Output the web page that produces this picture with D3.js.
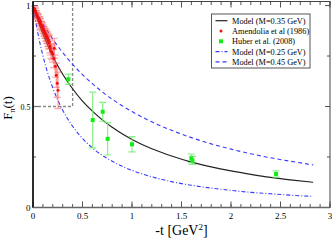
<!DOCTYPE html>
<html>
<head>
<meta charset="utf-8">
<script src="https://cdn.jsdelivr.net/npm/d3@7"></script>
<style>
  body { margin: 0; background: #fff; }
  svg { display: block; }
  text { font-family: "Liberation Serif", "DejaVu Serif", serif; }
</style>
</head>
<body>
<div id="chart"></div>
<script>
// model curves
const modelT    = [0, 0.02, 0.05, 0.1, 0.15, 0.2, 0.25, 0.3, 0.4, 0.5, 0.6, 0.7, 0.8, 0.9, 1.0, 1.2, 1.4, 1.6, 1.8, 2.0, 2.2, 2.4, 2.6, 2.83];
const modelM035 = [1, 0.969, 0.925, 0.859, 0.801, 0.749, 0.702, 0.660, 0.588, 0.527, 0.477, 0.434, 0.397, 0.365, 0.337, 0.291, 0.255, 0.225, 0.201, 0.181, 0.164, 0.149, 0.137, 0.125];
const modelM025 = [1, 0.940, 0.861, 0.752, 0.664, 0.592, 0.532, 0.482, 0.402, 0.342, 0.295, 0.258, 0.229, 0.204, 0.184, 0.152, 0.128, 0.110, 0.096, 0.085, 0.075, 0.068, 0.061, 0.055];
const modelM045 = [1, 0.981, 0.954, 0.911, 0.871, 0.834, 0.799, 0.767, 0.709, 0.658, 0.613, 0.572, 0.536, 0.504, 0.475, 0.424, 0.382, 0.346, 0.315, 0.289, 0.266, 0.246, 0.229, 0.211];

// Amendolia et al (1986)
const amendT   = [0.015, 0.020, 0.025, 0.030, 0.035, 0.040, 0.045, 0.050, 0.055, 0.060, 0.065, 0.070, 0.075, 0.080, 0.085, 0.090, 0.095, 0.100, 0.105, 0.110, 0.115, 0.120, 0.125, 0.130, 0.135, 0.140, 0.145, 0.150, 0.155, 0.160, 0.165, 0.170, 0.175, 0.180, 0.190, 0.200, 0.210, 0.215, 0.225, 0.235, 0.245, 0.253];
const amendF   = [0.985, 0.972, 0.975, 0.962, 0.958, 0.951, 0.946, 0.938, 0.940, 0.925, 0.928, 0.915, 0.918, 0.905, 0.902, 0.893, 0.896, 0.880, 0.884, 0.870, 0.873, 0.860, 0.862, 0.848, 0.853, 0.838, 0.842, 0.826, 0.830, 0.815, 0.820, 0.800, 0.790, 0.775, 0.770, 0.760, 0.738, 0.788, 0.700, 0.655, 0.615, 0.580];
const amendErr = [0.012, 0.012, 0.013, 0.013, 0.014, 0.014, 0.015, 0.015, 0.016, 0.016, 0.017, 0.017, 0.018, 0.018, 0.019, 0.019, 0.020, 0.020, 0.021, 0.022, 0.022, 0.023, 0.024, 0.025, 0.026, 0.027, 0.028, 0.029, 0.030, 0.031, 0.032, 0.034, 0.035, 0.036, 0.038, 0.040, 0.045, 0.050, 0.055, 0.060, 0.070, 0.090];

// Huber et al. (2008)
const huberT   = [0.357, 0.603, 0.704, 0.754, 1.0, 1.60, 1.61, 2.455];
const huberF   = [0.635, 0.433, 0.474, 0.340, 0.313, 0.243, 0.233, 0.166];
const huberErr = [0.025, 0.138, 0.047, 0.080, 0.038, 0.022, 0.020, 0.016];

// axes
const xMajor = [0, 0.5, 1, 1.5, 2, 2.5, 3];
const xLabels = ["0", "0.5", "1", "1.5", "2", "2.5", "3"];
const yMajor = [0, 0.5, 1];
const yLabels = ["0", "0.5", "1"];

const legendItems = [
  { label: "Model (M=0.35 GeV)", kind: "line", color: "#222", dash: null },
  { label: "Amendolia et al (1986)", kind: "dot", color: "#ee1111" },
  { label: "Huber et al. (2008)", kind: "square", color: "#11ee11" },
  { label: "Model (M=0.25 GeV)", kind: "line", color: "#3838ff", dash: "4,2,1,2" },
  { label: "Model (M=0.45 GeV)", kind: "line", color: "#3838ff", dash: "4,3" }
];

var margin = {top: 1.5, right: 2, bottom: 32.5, left: 33},
    width = 332 - margin.left - margin.right,
    height = 240 - margin.top - margin.bottom;

var svg = d3.select("#chart")
  .append("svg")
  .attr("width", 332)
  .attr("height", 240)
  .append("g")
  .attr("transform", "translate(" + margin.left + "," + margin.top + ")");

var x = d3.scaleLinear().domain([0, 3]).range([0, width]);
var y = d3.scaleLinear().domain([0, 1.02]).range([height, 0]);

// ticks (inward on all four sides)
var xMinor = d3.range(0, 3.001, 0.1);
var yMinor = d3.range(0, 1.001, 0.25);
var tickColor = "#555";

function tickSet(g, vals, len, side) {
  g.selectAll(null).data(vals).enter().append("line")
    .attr("x1", d => side === "b" || side === "t" ? x(d) : (side === "l" ? 0 : width))
    .attr("x2", d => side === "b" || side === "t" ? x(d) : (side === "l" ? len : width - len))
    .attr("y1", d => side === "l" || side === "r" ? y(d) : (side === "b" ? height : 0))
    .attr("y2", d => side === "l" || side === "r" ? y(d) : (side === "b" ? height - len : len))
    .attr("stroke", tickColor)
    .attr("stroke-width", 1);
}
var ticks = svg.append("g");
tickSet(ticks, xMinor, 3.5, "b");
tickSet(ticks, xMinor, 3.5, "t");
tickSet(ticks, xMajor, 6, "b");
tickSet(ticks, xMajor, 6, "t");
tickSet(ticks, yMinor, 3, "l");
tickSet(ticks, yMinor, 3, "r");
tickSet(ticks, yMajor, 5, "l");
tickSet(ticks, yMajor, 5, "r");

// tick labels
svg.append("g").selectAll("text").data(xMajor).enter().append("text")
  .attr("x", d => x(d))
  .attr("y", height + 11)
  .attr("text-anchor", "middle")
  .attr("font-size", 9)
  .text((d, i) => xLabels[i]);

svg.append("g").selectAll("text").data(yMajor).enter().append("text")
  .attr("x", -2.5)
  .attr("y", d => y(d) + 3)
  .attr("text-anchor", "end")
  .attr("font-size", (d, i) => i === 1 ? 8 : 9)
  .text((d, i) => yLabels[i]);

// zoom box
svg.append("path")
  .attr("d", "M0," + y(0.5) + "H" + x(0.4) + "V0")
  .attr("fill", "none")
  .attr("stroke", "#888")
  .attr("stroke-width", 1.3)
  .attr("stroke-dasharray", "3,2");

// model curves
var line = d3.line()
  .x(d => x(d[0]))
  .y(d => y(d[1]))
  .curve(d3.curveMonotoneX);

function drawModel(vals, color, dash, w) {
  svg.append("path")
    .datum(modelT.map((t, i) => [t, vals[i]]))
    .attr("d", line)
    .attr("fill", "none")
    .attr("stroke", color)
    .attr("stroke-width", w)
    .attr("stroke-dasharray", dash);
}
drawModel(modelM045, "#3838ff", "4,3", 1.1);
drawModel(modelM025, "#3838ff", "4,2,1,2", 1.1);
drawModel(modelM035, "#222", null, 1.2);

// data with error bars
function drawData(ts, fs, errs, barColor, markColor, kind) {
  var g = svg.append("g");
  var pts = ts.map((t, i) => ({t: t, f: fs[i], e: errs[i]}));
  var cap = 3.5;
  g.selectAll(null).data(pts).enter().append("path")
    .attr("d", d => {
      var xx = x(d.t), y1 = y(d.f + d.e), y2 = y(d.f - d.e);
      return "M" + xx + "," + y1 + "V" + y2 +
             "M" + (xx - cap) + "," + y1 + "H" + (xx + cap) +
             "M" + (xx - cap) + "," + y2 + "H" + (xx + cap);
    })
    .attr("fill", "none")
    .attr("stroke", barColor)
    .attr("stroke-width", 1.2);
  if (kind === "dot") {
    g.selectAll(null).data(pts).enter().append("circle")
      .attr("cx", d => x(d.t))
      .attr("cy", d => y(d.f))
      .attr("r", 1.5)
      .attr("fill", markColor);
  } else {
    g.selectAll(null).data(pts).enter().append("rect")
      .attr("x", d => x(d.t) - 2)
      .attr("y", d => y(d.f) - 2)
      .attr("width", 4)
      .attr("height", 4)
      .attr("fill", markColor);
  }
}
drawData(amendT, amendF, amendErr, "rgba(255,90,90,0.55)", "#ee1111", "dot");
drawData(huberT, huberF, huberErr, "rgba(110,240,110,0.85)", "#11ee11", "square");

// frame
svg.append("rect")
  .attr("width", width)
  .attr("height", height)
  .attr("fill", "none")
  .attr("stroke", "#444")
  .attr("stroke-width", 1);
svg.append("line")
  .attr("x1", 0).attr("x2", 0).attr("y1", 0).attr("y2", height)
  .attr("stroke", "#111").attr("stroke-width", 1.6);
svg.append("line")
  .attr("x1", 0).attr("x2", width).attr("y1", height).attr("y2", height)
  .attr("stroke", "#666").attr("stroke-width", 1.6);

// legend
var lg = svg.append("g").attr("transform", "translate(" + (211.5 - margin.left) + "," + (14 - margin.top) + ")");
lg.append("rect")
  .attr("width", 98.5)
  .attr("height", 54)
  .attr("fill", "#fff")
  .attr("stroke", "#555")
  .attr("stroke-width", 1);
legendItems.forEach(function(it, i) {
  var cy = 6.7 + i * 10.3;
  if (it.kind === "line") {
    lg.append("line")
      .attr("x1", 4).attr("x2", 16).attr("y1", cy).attr("y2", cy)
      .attr("stroke", it.color).attr("stroke-width", 1.2)
      .attr("stroke-dasharray", it.dash);
  } else if (it.kind === "dot") {
    lg.append("circle").attr("cx", 9.5).attr("cy", cy).attr("r", 1.5).attr("fill", it.color);
  } else {
    lg.append("rect").attr("x", 7.5).attr("y", cy - 2).attr("width", 4).attr("height", 4).attr("fill", it.color);
  }
  lg.append("text")
    .attr("x", 20.5)
    .attr("y", cy + 3)
    .attr("font-size", 8.3)
    .text(it.label);
});

// axis titles
svg.append("text")
  .attr("x", width / 2)
  .attr("y", height + 27)
  .attr("text-anchor", "middle")
  .attr("font-size", 14)
  .text("-t [GeV")
  .append("tspan").attr("dy", -5).attr("font-size", 9).text("2")
  .select(function() { return this.parentNode; })
  .append("tspan").attr("dy", 5).attr("font-size", 14).text("]");

var yt = svg.append("text")
  .attr("transform", "translate(" + (12 - margin.left) + "," + (108 - margin.top) + ") rotate(-90)")
  .attr("text-anchor", "middle")
  .attr("font-size", 13);
yt.append("tspan").text("F");
yt.append("tspan").attr("dy", 3).attr("font-size", 8).text("π");
yt.append("tspan").attr("dy", -3).attr("font-size", 13).text("(t)");
</script>
</body>
</html>
